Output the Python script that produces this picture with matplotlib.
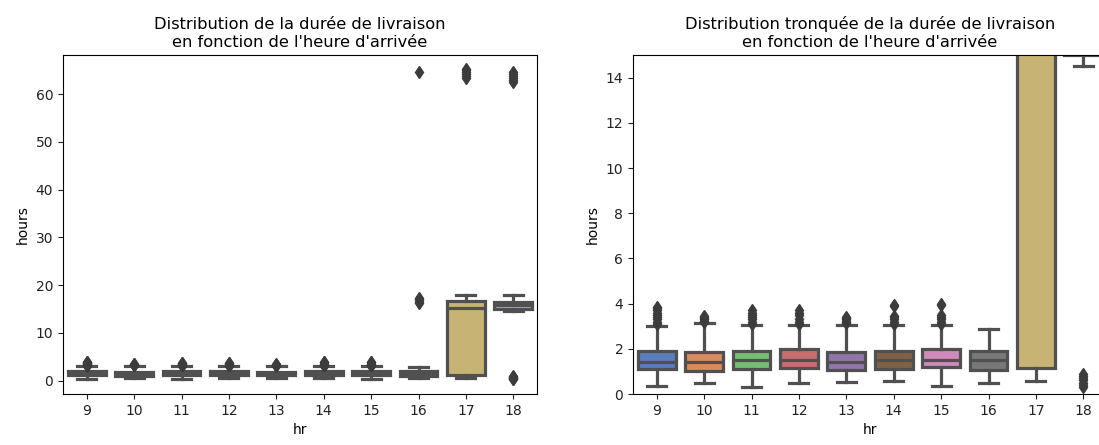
import colorsys
import matplotlib
matplotlib.use("Agg")
import matplotlib.pyplot as plt
import matplotlib.colors as mcolors

# hour of arrival
hours = [9, 10, 11, 12, 13, 14, 15, 16, 17, 18]

# box summary (hours)
whislo = [0.37, 0.47, 0.30, 0.47, 0.54, 0.59, 0.37, 0.47, 0.59, 14.5]
q1 = [1.10, 1.03, 1.10, 1.14, 1.08, 1.10, 1.18, 1.06, 1.14, 15.0]
med = [1.40, 1.40, 1.52, 1.52, 1.43, 1.52, 1.52, 1.52, 15.2, 15.8]
q3 = [1.92, 1.84, 1.92, 1.99, 1.87, 1.92, 1.99, 1.92, 16.6, 16.5]
whishi = [3.02, 3.14, 3.07, 3.07, 3.07, 3.07, 3.07, 2.88, 17.9, 17.9]
fliers = [
    [3.1, 3.2, 3.3, 3.4, 3.5, 3.6, 3.7, 3.8, 3.85],
    [3.2, 3.25, 3.3, 3.35, 3.4, 3.45],
    [3.1, 3.2, 3.3, 3.4, 3.5, 3.6, 3.7],
    [3.1, 3.2, 3.3, 3.5, 3.6, 3.7],
    [3.15, 3.2, 3.25, 3.3, 3.35, 3.4],
    [3.1, 3.2, 3.3, 3.4, 3.45, 3.9, 3.95],
    [3.1, 3.2, 3.3, 3.4, 3.5, 3.95, 4.0],
    [16.2, 16.5, 16.8, 17.1, 17.4, 64.6],
    [63.4, 63.8, 64.2, 64.6, 65.0, 65.3],
    [0.3, 0.4, 0.5, 0.6, 0.7, 0.8, 0.9, 62.6, 63.0, 63.4, 63.8, 64.2, 64.6],
]

muted = ["#4878d0", "#ee854a", "#6acc64", "#d65f5f", "#956cb4",
         "#8c613c", "#dc7ec0", "#797979", "#d5bb67", "#82c6e2"]


def desat(c, prop=0.75):
    h, l, s = colorsys.rgb_to_hls(*mcolors.to_rgb(c))
    return colorsys.hls_to_rgb(h, l, s * prop)


colors = [desat(c) for c in muted]
gray = "#505050"

stats = []
for i in range(len(hours)):
    stats.append({"label": str(hours[i]), "whislo": whislo[i], "q1": q1[i],
                  "med": med[i], "q3": q3[i], "whishi": whishi[i],
                  "fliers": fliers[i]})

fig = plt.figure(figsize=(10.99, 4.45), dpi=100)
W, H = 1099, 445
ax1 = fig.add_axes([63 / W, (H - 394) / H, 474 / W, 339 / H])
ax2 = fig.add_axes([633 / W, (H - 394) / H, 474 / W, 339 / H])

lw = 2.3
for ax in (ax1, ax2):
    bp = ax.bxp(stats, positions=range(len(hours)), widths=0.8,
                capwidths=0.4, patch_artist=True,
                boxprops=dict(edgecolor=gray, linewidth=lw),
                medianprops=dict(color=gray, linewidth=lw),
                whiskerprops=dict(color=gray, linewidth=lw),
                capprops=dict(color=gray, linewidth=lw),
                flierprops=dict(marker="d", markerfacecolor="#3c3c3c",
                                markeredgecolor="#3c3c3c", markersize=6.5,
                                linestyle="none"))
    for patch, c in zip(bp["boxes"], colors):
        patch.set_facecolor(c)
    ax.set_xlim(-0.5, len(hours) - 0.5)
    ax.set_xlabel("hr", fontsize=10)
    ax.set_ylabel("hours", fontsize=10)
    ax.tick_params(labelsize=10, colors="#222222")

ax1.set_ylim(-2.8, 68.2)
ax2.set_ylim(0, 15)
ax1.set_title("Distribution de la durée de livraison\nen fonction de l'heure d'arrivée",
              fontsize=11.7)
ax2.set_title("Distribution tronquée de la durée de livraison\nen fonction de l'heure d'arrivée",
              fontsize=11.7)

fig.savefig("out.png", dpi=100)
